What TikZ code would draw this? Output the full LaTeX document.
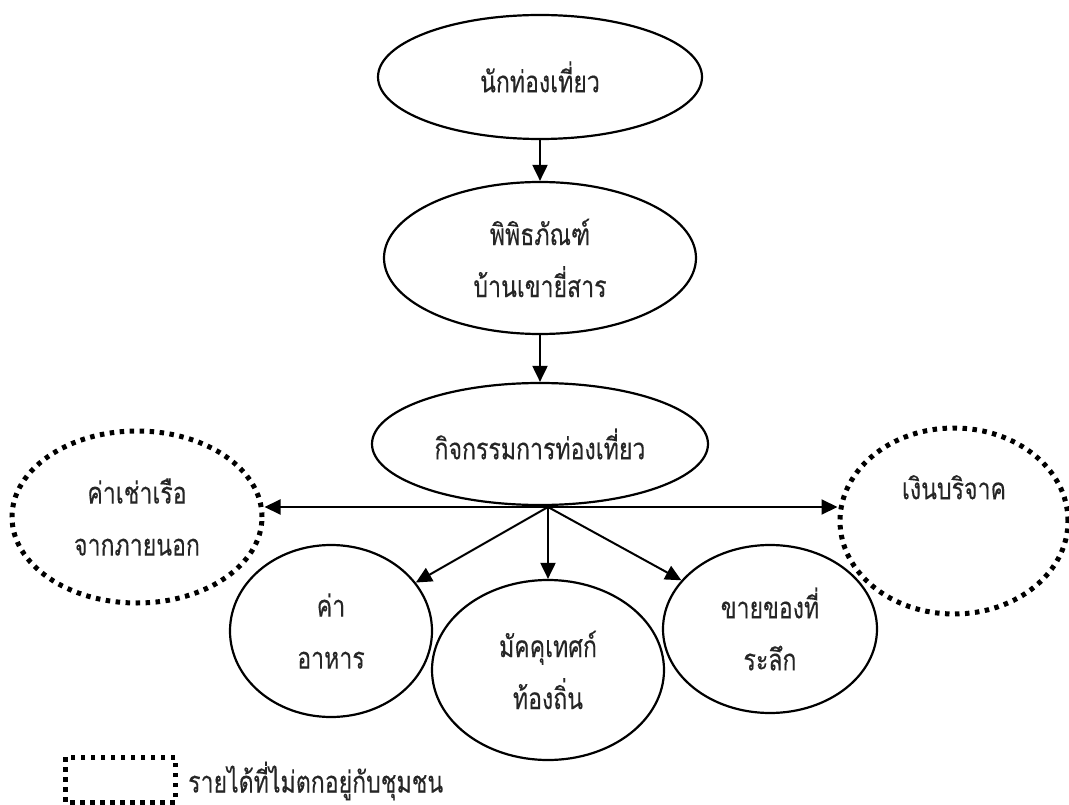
\documentclass[tikz,border=0pt]{standalone}
\usepackage{fontspec}
\newfontfamily\thai[Script=Thai,FakeStretch=0.77,FakeBold=0.2]{Loma}
\usetikzlibrary{shapes.geometric,arrows.meta}
\tikzset{
  ell/.style={ellipse, draw=black, line width=2.2pt, inner sep=0pt, align=center,
    font=\thai\fontsize{30}{52}\selectfont, text=black!85},
  dotell/.style={ell, line width=5pt, dash pattern=on 4.5pt off 5.5pt},
  arr/.style={line width=2pt, -{Triangle[length=16pt,width=15pt]}},
  lbl/.style={font=\thai\fontsize{30}{52}\selectfont, text=black!85, inner sep=0pt}
}
\begin{document}
\begin{tikzpicture}[x=1pt,y=-1pt]
\useasboundingbox (0,0) rectangle (1069,805);
\node[ell, minimum width=324pt, minimum height=124pt] (tourist) at (540,77) {นักท่องเที่ยว};
\node[ell, minimum width=312pt, minimum height=152pt] (museum) at (540,258) {พิพิธภัณฑ์\\บ้านเขายี่สาร};
\node[ell, minimum width=336pt, minimum height=122pt] (act) at (540,444) {กิจกรรมการท่องเที่ยว};
\node[dotell, minimum width=250pt, minimum height=172pt] (rent) at (137,517) {ค่าเช่าเรือ\\จากภายนอก};
\node[dotell, minimum width=228pt, minimum height=186pt] (donate) at (954,521) {เงินบริจาค\\\strut};
\node[ell, minimum width=202pt, minimum height=172pt] (food) at (331,631) {ค่า\\อาหาร};
\node[ell, minimum width=232pt, minimum height=180pt] (guide) at (548,670) {มัคคุเทศก์\\ท้องถิ่น};
\node[ell, minimum width=214pt, minimum height=168pt] (souv) at (770,629) {ขายของที่\\ระลึก};
\coordinate (j) at (548,507);
\draw[arr] (tourist) -- (museum);
\draw[arr] (museum) -- (act);
\draw[arr] (j) -- (j -| rent.east);
\draw[arr] (j) -- (j -| donate.west);
\draw[arr] (j) -- (food);
\draw[arr] (j) -- (guide.north);
\draw[arr] (j) -- (souv);
\draw[line width=5pt, dash pattern=on 4.5pt off 5.5pt] (65,757) rectangle (175,802);
\node[lbl, anchor=west] (legend) at (188,781) {รายได้ที่ไม่ตกอยู่กับชุมชน};
\end{tikzpicture}
\end{document}
